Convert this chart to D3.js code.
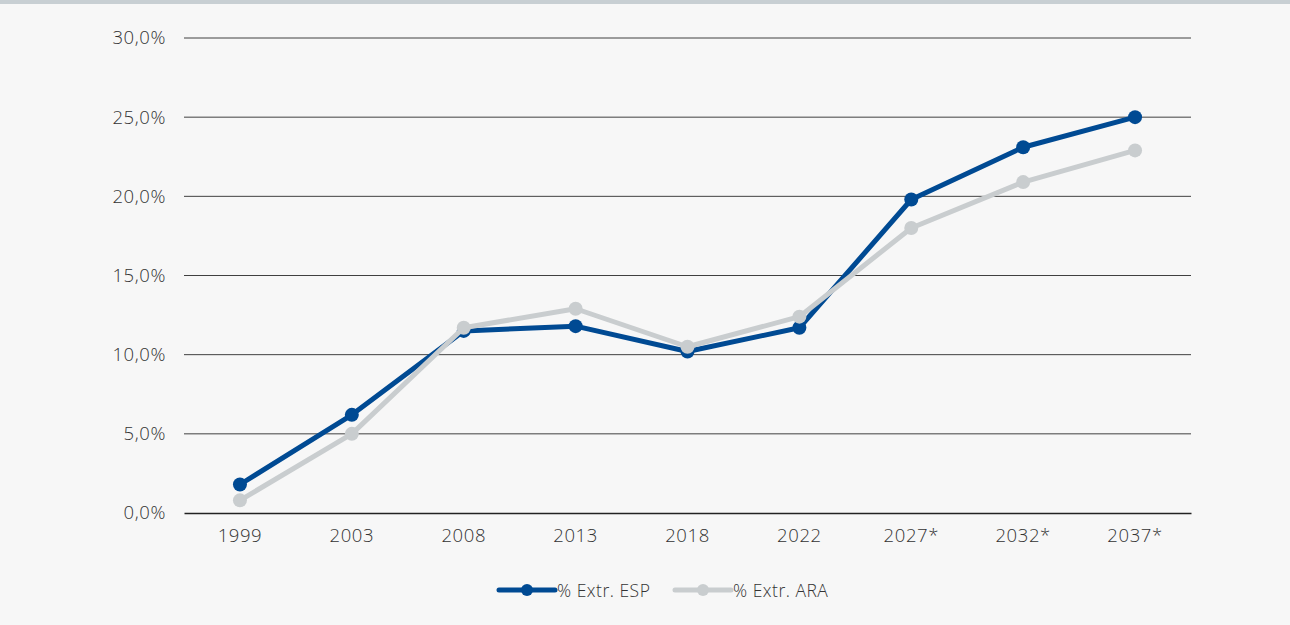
<!DOCTYPE html>
<html><head><meta charset="utf-8">
<script src="https://cdn.jsdelivr.net/npm/d3@7"></script>
<style>
html,body{margin:0;padding:0;background:#f7f7f7;}
svg{display:block;}
text{font-family:"Open Sans",Lato,sans-serif;font-weight:300;fill:#333;}
</style></head><body>
<svg id="c" width="1290" height="625"></svg>
<script>
const categories = ["1999","2003","2008","2013","2018","2022","2027*","2032*","2037*"];
const esp = [1.8, 6.2, 11.5, 11.8, 10.2, 11.7, 19.8, 23.1, 25.0];
const ara = [0.8, 5.0, 11.7, 12.9, 10.5, 12.4, 18.0, 20.9, 22.9];
const yTicks = [0, 5, 10, 15, 20, 25, 30];
const seriesNames = ["% Extr. ESP", "% Extr. ARA"];
const colors = ["#004a93", "#c9cdcf"];
const FONT = "'Open Sans',Lato,sans-serif";

const svg = d3.select("#c");
svg.append("rect").attr("width",1290).attr("height",625).attr("fill","#f7f7f7");
svg.append("rect").attr("x",0).attr("y",0).attr("width",1290).attr("height",4).attr("fill","#c8cfd3");

const x = d3.scaleBand().domain(categories).range([184,1191]);
const y = d3.scaleLinear().domain([0,30]).range([513,38]);
const fmt = v => d3.format(".1f")(v).replace(".", ",") + "%";

// gridlines
const gy = svg.append("g");
gy.selectAll("line").data(yTicks.filter(t=>t>0)).join("line")
  .attr("x1",184).attr("x2",1191).attr("y1",d=>y(d)).attr("y2",d=>y(d))
  .attr("stroke","#404040").attr("stroke-width",1);

// y axis labels
const yAxis = d3.axisLeft(y).tickValues(yTicks).tickFormat(fmt).tickSize(0).tickPadding(18);
const ya = svg.append("g").attr("transform","translate(184,0)").call(yAxis);
ya.select(".domain").remove();
ya.selectAll("text").attr("font-size",18.5).style("font-family",FONT).style("font-weight",300)
  .style("letter-spacing","0.6px").attr("fill","#333");

// x axis
const xAxis = d3.axisBottom(x).tickSize(0).tickPadding(16);
const xa = svg.append("g").attr("transform","translate(0,513)").call(xAxis);
xa.select(".domain").attr("stroke","#222").attr("stroke-width",1.5);
xa.selectAll("text").attr("font-size",18.5).style("font-family",FONT).style("font-weight",300)
  .style("letter-spacing","0.6px").attr("fill","#333");

const cx = d => x(d) + x.bandwidth()/2;
const line = d3.line().x((d,i)=>cx(categories[i])).y(d=>y(d));

[esp, ara].forEach((data, k) => {
  const g = svg.append("g");
  g.append("path").datum(data).attr("d", line).attr("fill","none")
    .attr("stroke", colors[k]).attr("stroke-width",5).attr("stroke-linejoin","round");
  g.selectAll("circle").data(data).join("circle")
    .attr("cx",(d,i)=>cx(categories[i])).attr("cy",d=>y(d)).attr("r",7).attr("fill",colors[k]);
});

// legend
const legend = [{x:499, name:seriesNames[0], c:colors[0]},{x:675, name:seriesNames[1], c:colors[1]}];
legend.forEach(l => {
  const g = svg.append("g").attr("transform",`translate(${l.x},590)`);
  g.append("line").attr("x1",0).attr("x2",56).attr("y1",0).attr("y2",0).attr("stroke",l.c).attr("stroke-width",5).attr("stroke-linecap","round");
  g.append("circle").attr("cx",28).attr("cy",0).attr("r",6).attr("fill",l.c);
  g.append("text").attr("x",58).attr("y",6.5).attr("font-size",17.5).style("letter-spacing","0.5px").text(l.name);
});
</script>
</body></html>
